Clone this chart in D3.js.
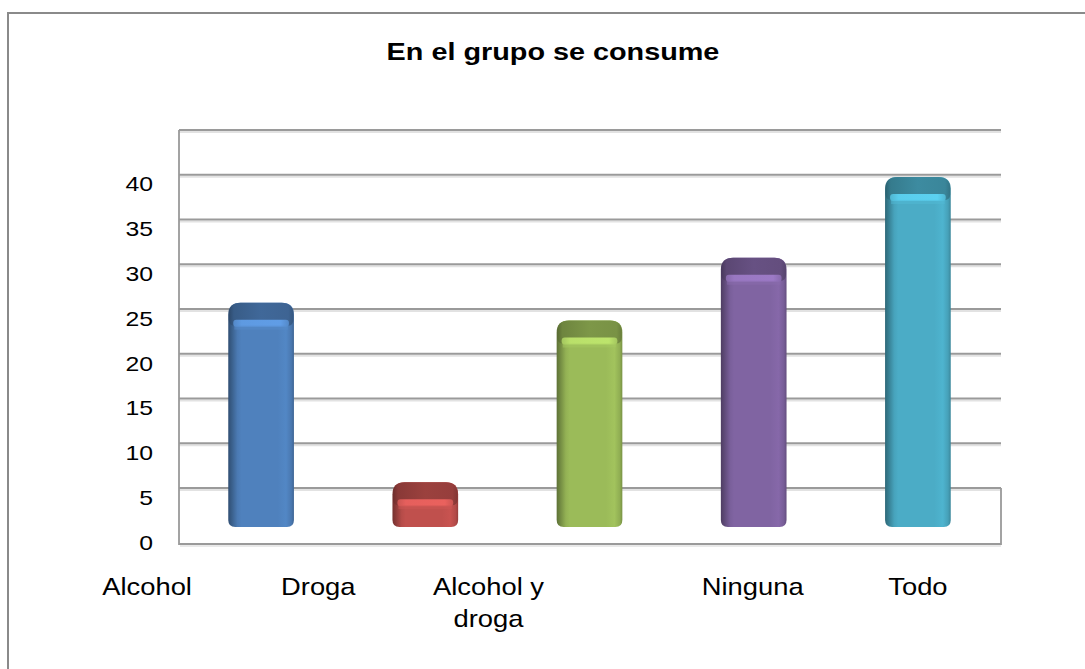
<!DOCTYPE html>
<html>
<head>
<meta charset="utf-8">
<script src="https://cdn.jsdelivr.net/npm/d3@7"></script>
<style>
html,body{margin:0;padding:0;background:#fff;}
svg{display:block;}
text{font-family:"Liberation Sans", Arial, sans-serif;fill:#000;}
</style>
</head>
<body>
<svg id="chart" width="1085" height="669"></svg>
<script>
// ---- data ----
const title = "En el grupo se consume";
const categories = ["Alcohol", "Droga", "Alcohol y droga", "Ninguna", "Todo"];
const values = [25, 5, 23, 30, 39];
const colors = ["#4F81BD", "#C0504D", "#9BBB59", "#8064A2", "#4BACC6"];
const labelLines = [["Alcohol"], ["Droga"], ["Alcohol y", "droga"], ["Ninguna"], ["Todo"]];
const yTicks = [0, 5, 10, 15, 20, 25, 30, 35, 40];

// ---- layout ----
const W = 1085, H = 669;
const svg = d3.select("#chart");
svg.append("rect").attr("width", W).attr("height", H).attr("fill", "#fff");

// outer frame
svg.append("path").attr("d", "M8,669 V13 H1085")
  .attr("fill", "none").attr("stroke", "#8a8a8a").attr("stroke-width", 2);

const x = d3.scaleBand().domain(categories).range([179, 1000]).paddingInner(0.6).paddingOuter(0.3);
const yWall = d3.scaleLinear().domain([0, 40]).range([488, 130]);
const yFront = d3.scaleLinear().domain([0, 40]).range([543, 184]);
const yBar = d3.scaleLinear().domain([0, 40]).range([527, 168]);

// title
svg.append("text").attr("transform", "translate(553,60) scale(1.2,1)")
  .attr("text-anchor", "middle").attr("font-size", 24).attr("font-weight", "bold").text(title);

// back wall gridlines
const g = svg.append("g");
g.selectAll("line.sh").data(yTicks).join("line").attr("class", "sh")
  .attr("x1", 179).attr("x2", 1001).attr("y1", d => yWall(d) + 2).attr("y2", d => yWall(d) + 2)
  .attr("stroke", "#e2e2e2").attr("stroke-width", 2);
g.selectAll("line.gl").data(yTicks).join("line").attr("class", "gl")
  .attr("x1", 179).attr("x2", 1001).attr("y1", d => yWall(d)).attr("y2", d => yWall(d))
  .attr("stroke", "#9a9a9a").attr("stroke-width", 1.8);
// left wall & floor
g.append("path").attr("d", `M179,${yWall(40)} V${yFront(0) + 1} H1001 V${yWall(0)}`)
  .attr("fill", "none").attr("stroke", "#9a9a9a").attr("stroke-width", 1.8);
g.append("line").attr("x1", 180).attr("x2", 1001).attr("y1", yFront(0) + 3).attr("y2", yFront(0) + 3)
  .attr("stroke", "#e2e2e2").attr("stroke-width", 1.5);

// y labels
svg.selectAll("text.yt").data(yTicks).join("text").attr("class", "yt")
  .attr("transform", d => `translate(153,${yFront(d) + 7}) scale(1.24,1)`)
  .attr("text-anchor", "end").attr("font-size", 20).text(d => d);

// gradients
const defs = svg.append("defs");
colors.forEach((c, i) => {
  const col = d3.color(c);
  const gr = defs.append("linearGradient").attr("id", "side" + i).attr("x1", 0).attr("x2", 1).attr("y1", 0).attr("y2", 0);
  [[0, col.darker(1.4)], [0.05, col.darker(0.9)], [0.14, col.darker(0.15)], [0.2, col], [0.75, col], [0.88, col.brighter(0.12)], [0.96, col.darker(0.2)], [1, col.darker(0.7)]]
    .forEach(([o, cc]) => gr.append("stop").attr("offset", o).attr("stop-color", cc));
  const gt = defs.append("linearGradient").attr("id", "top" + i).attr("x1", 0).attr("x2", 1).attr("y1", 0).attr("y2", 0);
  [[0, col.darker(1.6)], [0.08, col.darker(0.95)], [0.5, col.darker(0.6)], [0.92, col.darker(0.7)], [1, col.darker(1.1)]]
    .forEach(([o, cc]) => gt.append("stop").attr("offset", o).attr("stop-color", cc));
  const gh = defs.append("linearGradient").attr("id", "hl" + i).attr("x1", 0).attr("x2", 1).attr("y1", 0).attr("y2", 0);
  [[0, col.brighter(0.2)], [0.15, col.brighter(0.55)], [0.85, col.brighter(0.6)], [1, col.brighter(0.2)]]
    .forEach(([o, cc]) => gh.append("stop").attr("offset", o).attr("stop-color", cc));
});

function barPath(x0, w, y0, y1, rt, rb) {
  return `M${x0},${y0 + rt} Q${x0},${y0} ${x0 + rt},${y0} H${x0 + w - rt} Q${x0 + w},${y0} ${x0 + w},${y0 + rt}` +
    ` V${y1 - rb} Q${x0 + w},${y1} ${x0 + w - rb},${y1} H${x0 + rb} Q${x0},${y1} ${x0},${y1 - rb} Z`;
}

const bars = svg.selectAll("g.bar").data(categories).join("g").attr("class", "bar");
bars.each(function (c, i) {
  const gb = d3.select(this);
  const x0 = x(c), w = x.bandwidth();
  const top = yBar(values[i]), bot = yBar(0);
  gb.append("path").attr("d", barPath(x0, w, top, bot, 12, 7)).attr("fill", `url(#side${i})`);
  // top cap
  gb.append("path").attr("d", barPath(x0 + 0.5, w - 1, top, top + 23, 12, 6)).attr("fill", `url(#top${i})`);
  // highlight band
  gb.append("rect").attr("x", x0 + 5).attr("y", top + 17).attr("width", w - 10).attr("height", 7)
    .attr("rx", 3).attr("fill", `url(#hl${i})`).attr("opacity", 0.95);
  // blend below highlight
  gb.append("rect").attr("x", x0 + 6).attr("y", top + 23).attr("width", w - 12).attr("height", 4)
    .attr("fill", d3.color(colors[i]).brighter(0.2)).attr("opacity", 0.5);
});

// category labels
const labelShift = [-114, -107, -101, -1, 0];
svg.selectAll("g.cl").data(categories).join("g").attr("class", "cl")
  .each(function (c, i) {
    const cx = x(c) + x.bandwidth() / 2 + labelShift[i];
    labelLines[i].forEach((ln, k) => {
      d3.select(this).append("text")
        .attr("transform", `translate(${cx},${595 + k * 32}) scale(1.14,1)`)
        .attr("text-anchor", "middle").attr("font-size", 24).text(ln);
    });
  });
</script>
</body>
</html>
